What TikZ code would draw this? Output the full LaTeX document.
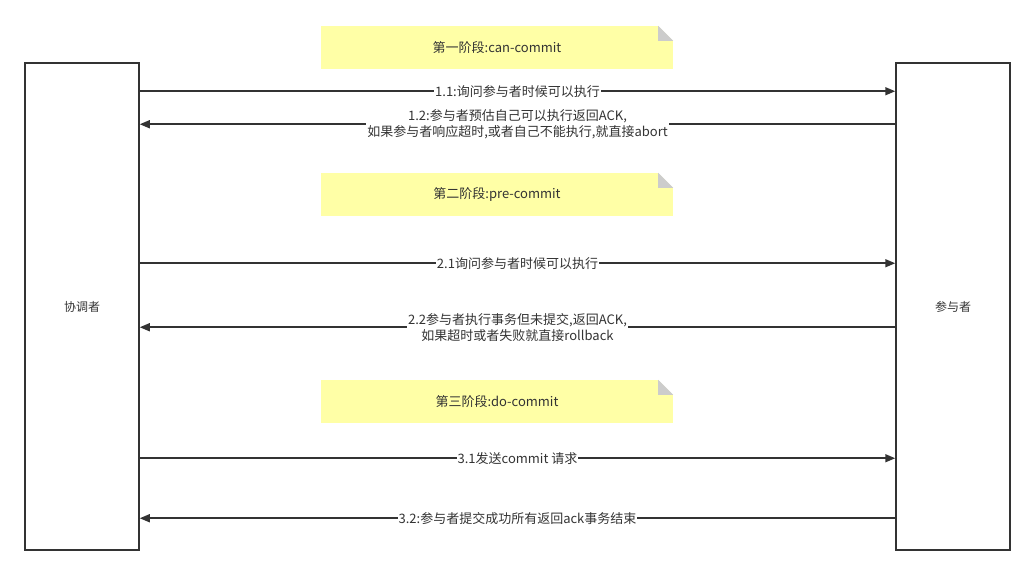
\documentclass[tikz,border=0pt]{standalone}
\usepackage{fontspec}
\setmainfont{Noto Sans CJK SC}
\usepackage{xcolor}
\usetikzlibrary{arrows.meta, positioning}
\definecolor{xian}{HTML}{333333}
\definecolor{huang}{HTML}{FFFFA6}
\definecolor{zhe}{HTML}{CCCCCC}
\tikzset{
  juese/.style={draw=xian, line width=1.5pt, minimum width=114pt,
    minimum height=487pt, inner sep=0pt, text=xian,
    font=\fontsize{12}{14}\selectfont},
  jieduan/.style={fill=huang, minimum width=352pt, minimum height=43pt,
    inner sep=0pt, text=xian, font=\fontsize{13}{15}\selectfont},
  xiaoxi/.style={draw=xian, line width=1.6pt,
    -{Triangle[length=10pt,width=8pt]}},
  biaoqian/.style={fill=white, inner sep=1pt, align=center, text=xian,
    font=\fontsize{13}{16}\selectfont},
}
\newcommand{\zhejiao}[1]{%
  \fill[white] (#1.north east) -- ([xshift=-15pt]#1.north east)
    -- ([yshift=-15pt]#1.north east) -- cycle;
  \fill[zhe] ([xshift=-15pt]#1.north east)
    -- ([xshift=-15pt,yshift=-15pt]#1.north east)
    -- ([yshift=-15pt]#1.north east) -- cycle;}

\begin{document}
\begin{tikzpicture}[x=1pt, y=-1pt]
			\useasboundingbox (0,0) rectangle (1035,575);
			
			%% xie tiao zhe, can yu zhe
			\node[juese] (xtz) at (82,306.5) {协调者};
			\node[juese] (cyz) at (953,306.5) {参与者};
			
			%% jie duan
			\node[jieduan] (jd1) at (497,47.5) {第一阶段:can-commit};
			\node[jieduan] (jd2) at (497,194.5) {第二阶段:pre-commit};
			\node[jieduan] (jd3) at (497,401.5) {第三阶段:do-commit};
			\zhejiao{jd1}
			\zhejiao{jd2}
			\zhejiao{jd3}
			
			%% 1.1, 1.2
			\draw[xiaoxi] ([yshift=-29pt]xtz.north east)--([yshift=-29pt]cyz.north west)
			node [midway, biaoqian] {1.1:询问参与者时候可以执行};
			\draw[xiaoxi] ([yshift=-62pt]cyz.north west)--([yshift=-62pt]xtz.north east)
			node [midway, biaoqian] {1.2:参与者预估自己可以执行返回ACK,\\如果参与者响应超时,或者自己不能执行,就直接abort};
			
			%% 2.1, 2.2
			\draw[xiaoxi] ([yshift=-201pt]xtz.north east)--([yshift=-201pt]cyz.north west)
			node [midway, biaoqian] {2.1询问参与者时候可以执行};
			\draw[xiaoxi] ([yshift=-265pt]cyz.north west)--([yshift=-265pt]xtz.north east)
			node [midway, biaoqian] {2.2参与者执行事务但未提交,返回ACK,\\如果超时或者失败就直接rollback};
			
			%% 3.1, 3.2
			\draw[xiaoxi] ([yshift=-396pt]xtz.north east)--([yshift=-396pt]cyz.north west)
			node [midway, biaoqian] {3.1发送commit 请求};
			\draw[xiaoxi] ([yshift=-456pt]cyz.north west)--([yshift=-456pt]xtz.north east)
			node [midway, biaoqian] {3.2:参与者提交成功所有返回ack事务结束};
		\end{tikzpicture}
\end{document}
